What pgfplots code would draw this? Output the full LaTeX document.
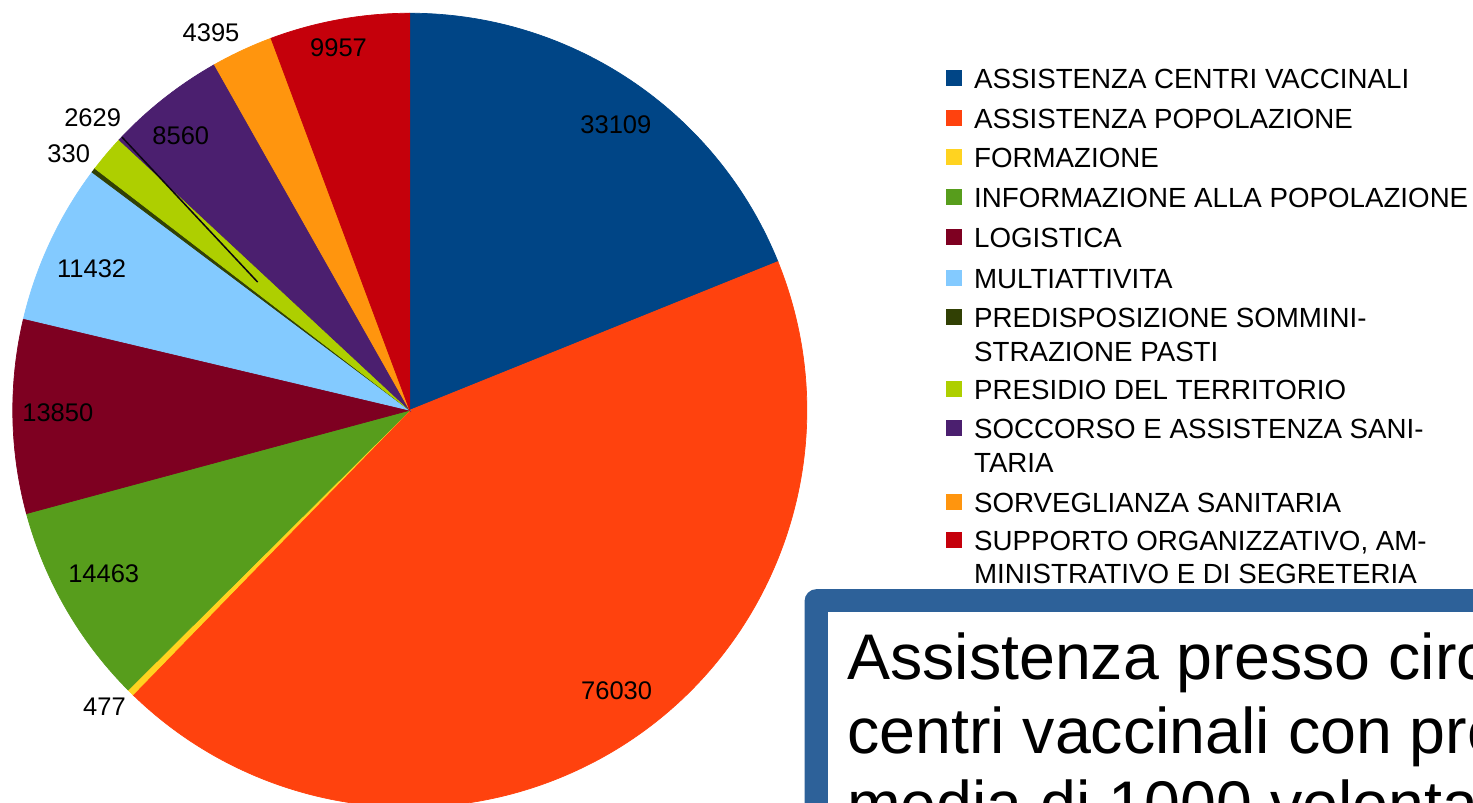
\documentclass[border=0pt]{standalone}
\usepackage{pgfplots}
\pgfplotsset{compat=1.18}
\usepackage{pgfplotstable}
\usepackage{xfp}
\usepackage{fontspec}
\setmainfont{Liberation Sans}
\definecolor{c0}{HTML}{004586}
\definecolor{c1}{HTML}{FF420E}
\definecolor{c2}{HTML}{FFD320}
\definecolor{c3}{HTML}{579D1C}
\definecolor{c4}{HTML}{7E0021}
\definecolor{c5}{HTML}{83CAFF}
\definecolor{c6}{HTML}{314004}
\definecolor{c7}{HTML}{AECF00}
\definecolor{c8}{HTML}{4B1F6F}
\definecolor{c9}{HTML}{FF950E}
\definecolor{c10}{HTML}{C5000B}
\definecolor{boxblue}{HTML}{2D6199}
\newcommand\lblfont{\fontsize{0.255cm}{0.3cm}\selectfont}
\newcommand\legfont{\fontsize{0.277cm}{0.32cm}\selectfont}
\newcommand\boxfont{\fontsize{0.645cm}{0.74cm}\selectfont}
% value, label radius factor, label angle shift (deg, clockwise)
\pgfplotstableread{
v lr da
33109 0.888 1.8
76030 0.879 -2.5
477 1.073 1.1
14463 0.874 1.9
13850 0.887 0.4
11432 0.877 -1.2
330 1.076 -0.2
2629 1.088 2.5
8560 0.900 -1.6
4395 1.075 -2.8
9957 0.930 -0.9
}\piedata
\def\total{0}%
\pgfplotsforeachungrouped \i in {0,...,10}{%
  \pgfplotstablegetelem{\i}{v}\of\piedata
  \xdef\total{\fpeval{\total+\pgfplotsretval}}%
}%
\def\cum{0}%
\pgfplotsforeachungrouped \i in {0,...,10}{%
  \pgfplotstablegetelem{\i}{v}\of\piedata \let\val\pgfplotsretval
  \pgfplotstablegetelem{\i}{lr}\of\piedata \let\lr\pgfplotsretval
  \pgfplotstablegetelem{\i}{da}\of\piedata \let\da\pgfplotsretval
  \expandafter\xdef\csname sa\i\endcsname{\fpeval{round(90-360*\cum/\total,4)}}%
  \expandafter\xdef\csname ea\i\endcsname{\fpeval{round(90-360*(\cum+\val)/\total,4)}}%
  \edef\la{\fpeval{round(90-360*(\cum+\val/2)/\total-(\da),4)}}%
  \expandafter\xdef\csname lx\i\endcsname{\fpeval{round(410+397*\lr*cosd(\la),2)}}%
  \expandafter\xdef\csname ly\i\endcsname{\fpeval{round(393+397*\lr*sind(\la),2)}}%
  \expandafter\xdef\csname lv\i\endcsname{\val}%
  \xdef\cum{\fpeval{\cum+\val}}%
}%
\newcommand\legentry[3]{%
  \fill[#1] (axis cs:947,{805-#2}) rectangle (axis cs:963,{821-#2});
  \node[anchor=base west, inner sep=0pt, font=\legfont] at (axis cs:974,{803-#2}) {#3};
}
\newcommand\legline[2]{%
  \node[anchor=base west, inner sep=0pt, font=\legfont] at (axis cs:974,{803-#1}) {#2};
}
\begin{document}
\begin{tikzpicture}
\useasboundingbox (0,0) rectangle (14.73cm,8.03cm);
\clip (0,0) rectangle (14.73cm,8.03cm);
\begin{axis}[x=0.01cm, y=0.01cm, xmin=0, xmax=1473, ymin=0, ymax=803,
  hide axis, clip=false, at={(0,0)}, anchor=south west]
% pie sectors
\pgfplotsforeachungrouped \i in {0,...,10}{%
  \edef\tmp{\noexpand\fill[c\i, draw=c\i, line width=0.2pt] (axis cs:410,393) -- ++(\csname sa\i\endcsname:3.97cm) arc[start angle=\csname sa\i\endcsname, end angle=\csname ea\i\endcsname, radius=3.97cm] -- cycle;}%
  \tmp
}
% rendering streak visible in the original
\draw[line width=0.015cm, color=black!85!c8] (axis cs:122,666.3) -- (axis cs:257.8,521.2);
% value labels
\pgfplotsforeachungrouped \i in {0,...,10}{%
  \edef\tmp{\noexpand\node[font=\noexpand\lblfont, inner sep=0pt, text=black] at (axis cs:\csname lx\i\endcsname,\csname ly\i\endcsname) {\csname lv\i\endcsname};}%
  \tmp
}
% legend
\legentry{c0}{88}{ASSISTENZA CENTRI VACCINALI}
\legentry{c1}{128}{ASSISTENZA POPOLAZIONE}
\legentry{c2}{167}{FORMAZIONE}
\legentry{c3}{207}{INFORMAZIONE ALLA POPOLAZIONE}
\legentry{c4}{247}{LOGISTICA}
\legentry{c5}{288}{MULTIATTIVITA}
\legentry{c6}{327}{PREDISPOSIZIONE SOMMINI-}
\legline{361}{STRAZIONE PASTI}
\legentry{c7}{399}{PRESIDIO DEL TERRITORIO}
\legentry{c8}{438}{SOCCORSO E ASSISTENZA SANI-}
\legline{472}{TARIA}
\legentry{c9}{512}{SORVEGLIANZA SANITARIA}
\legentry{c10}{550}{SUPPORTO ORGANIZZATIVO, AM-}
\legline{583}{MINISTRATIVO E DI SEGRETERIA}
% text box
\fill[boxblue, rounded corners=0.12cm] (axis cs:805,214) rectangle (axis cs:1700,-150);
\fill[white] (axis cs:828,191) rectangle (axis cs:1700,-150);
\node[anchor=base west, inner sep=0pt, font=\boxfont] at (axis cs:847,124) {Assistenza presso circa};
\node[anchor=base west, inner sep=0pt, font=\boxfont] at (axis cs:847,50) {centri vaccinali con presenza};
\node[anchor=base west, inner sep=0pt, font=\boxfont] at (axis cs:847,-24) {media di 1000 volontari};
\end{axis}
\end{tikzpicture}
\end{document}
